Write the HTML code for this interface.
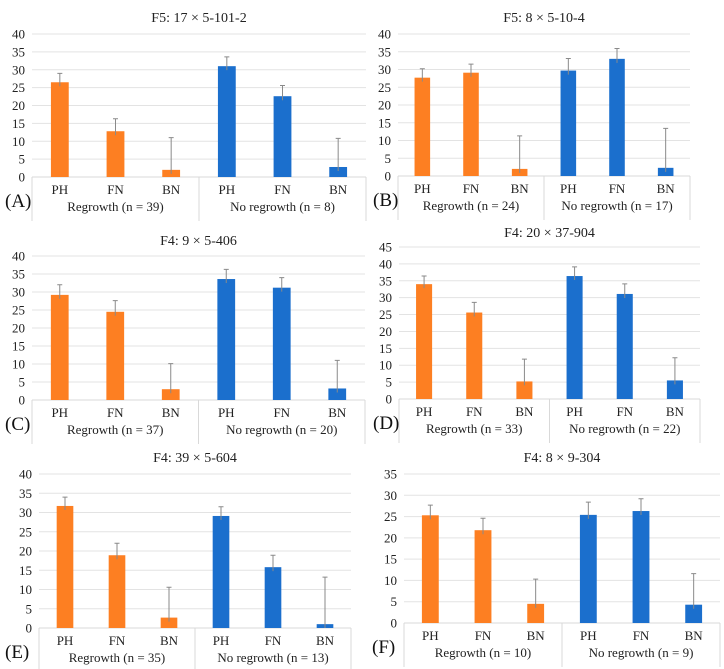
<!DOCTYPE html>
<html><head><meta charset="utf-8">
<style>
body{margin:0;background:#fff;}
svg{display:block;}
svg text{font-family:"Liberation Serif","DejaVu Serif",serif;}
</style></head>
<body>
<svg id="fig" width="724" height="669" viewBox="0 0 724 669" font-family="Liberation Serif, DejaVu Serif, serif" xmlns="http://www.w3.org/2000/svg"></svg>
<script>
const categories = ["PH","FN","BN"];
const titles = ["F5: 17 × 5-101-2","F5: 8 × 5-10-4","F4: 9 × 5-406","F4: 20 × 37-904","F4: 39 × 5-604","F4: 8 × 9-304"];
const panelLabels = ["(A)","(B)","(C)","(D)","(E)","(F)"];
const groupLabels = [
 ["Regrowth (n = 39)","No regrowth (n = 8)"],
 ["Regrowth (n = 24)","No regrowth (n = 17)"],
 ["Regrowth (n = 37)","No regrowth (n = 20)"],
 ["Regrowth (n = 33)","No regrowth (n = 22)"],
 ["Regrowth (n = 35)","No regrowth (n = 13)"],
 ["Regrowth (n = 10)","No regrowth (n = 9)"]];
const regrowthValues = [[26.5,12.8,2.0],[27.7,29.1,2.0],[29.2,24.5,3.0],[34.0,25.6,5.2],[31.7,18.9,2.7],[25.3,21.8,4.5]];
const regrowthUpper  = [[29.0,16.3,11.0],[30.2,31.5,11.3],[32.0,27.6,10.1],[36.4,28.6,11.8],[34.0,22.0,10.6],[27.7,24.6,10.3]];
const noRegrowthValues = [[31.0,22.6,2.8],[29.7,33.0,2.3],[33.6,31.2,3.2],[36.4,31.1,5.5],[29.1,15.8,1.0],[25.4,26.3,4.3]];
const noRegrowthUpper  = [[33.6,25.6,10.8],[33.1,35.9,13.4],[36.3,34.0,11.0],[39.1,34.1,12.2],[31.5,18.9,13.2],[28.4,29.2,11.6]];
const axisMax = [40,40,40,45,40,35];
const axisStep = [5,5,5,5,5,5];

const layout = [
 {x0:32,x1:366,yTop:34,y0:177,ty:17,lx:5},
 {x0:398,x1:690,yTop:34,y0:176,ty:17,lx:373},
 {x0:32,x1:365,yTop:256,y0:400,ty:240,lx:5},
 {x0:399,x1:700,yTop:247,y0:399,ty:232,lx:373},
 {x0:39,x1:351,yTop:474,y0:628,ty:457,lx:5},
 {x0:404,x1:720,yTop:474,y0:623,ty:457,lx:372}];
const NS="http://www.w3.org/2000/svg";
const FONT="Liberation Serif, DejaVu Serif, serif";
const svg=document.getElementById('fig');
function mk(tag,attrs,parent){const e=document.createElementNS(NS,tag);for(const k in attrs)e.setAttribute(k,attrs[k]);if(tag==='text')e.setAttribute('font-family',FONT);(parent||svg).appendChild(e);return e;}
const ORANGE="#fd7f22", BLUE="#1b6fcd";
layout.forEach((L,p)=>{
  const g=mk('g',{});
  
  
  const yScale=v=>L.y0-(v/axisMax[p])*(L.y0-L.yTop);
  const cw=(L.x1-L.x0)/6;
  const xCenter=i=>L.x0+cw*(i+0.5);
  const bw=cw*0.32;
  const t=mk('text',{x:(L.x0+L.x1)/2,y:L.ty+5,'text-anchor':'middle','font-size':14,fill:'#222'},g);
  t.textContent=titles[p];
  
  
  for(let v=0;v<=axisMax[p];v+=axisStep[p]){
    const y=yScale(v);
    if(v>0){const gl=mk('line',{x1:L.x0,x2:L.x1,y1:y,y2:y,stroke:'#e3e3e3','stroke-width':1},g);
      
      }
    const tl=mk('text',{x:L.x0-7,y:y+4.5,'text-anchor':'end','font-size':13,fill:'#222'},g);
    tl.textContent=v;
    
    
  }
  const ax=mk('line',{x1:L.x0,x2:L.x1,y1:L.y0,y2:L.y0,stroke:'#d9d9d9','stroke-width':1},g);
  
  
  [L.x0,(L.x0+L.x1)/2,L.x1].forEach(x=>{
    const d=mk('line',{x1:x,x2:x,y1:L.y0,y2:L.y0+44,stroke:'#d9d9d9','stroke-width':1},g);
    
    
  });
  const series=[[regrowthValues[p],regrowthUpper[p],ORANGE,0],[noRegrowthValues[p],noRegrowthUpper[p],BLUE,3]];
  series.forEach(([vals,ups,col,off],s)=>{
    vals.forEach((v,i)=>{
      const xc=xCenter(off+i);
      const r=mk('rect',{x:xc-bw/2,y:yScale(v),width:bw,height:L.y0-yScale(v),fill:col},g);
      
      
      const e=mk('path',{d:`M${xc} ${yScale(v)+Math.min(4,L.y0-yScale(v))} V${yScale(ups[i])} M${xc-2.5} ${yScale(ups[i])} H${xc+2.5}`,stroke:'#8a8a8a','stroke-width':1,fill:'none'},g);
      
      
      const cl=mk('text',{x:xc,y:L.y0+17,'text-anchor':'middle','font-size':13,fill:'#222'},g);
      cl.textContent=categories[i];
      
      
    });
    const gx=L.x0+cw*(off+1.5);
    const gt=mk('text',{x:gx,y:L.y0+34,'text-anchor':'middle','font-size':13,fill:'#222'},g);
    gt.textContent=groupLabels[p][s];
    
    
  });
  const pl=mk('text',{x:L.lx,y:L.y0+30,'font-size':19,fill:'#111'},g);
  pl.textContent=panelLabels[p];
  
  
});
</script>
</body></html>
